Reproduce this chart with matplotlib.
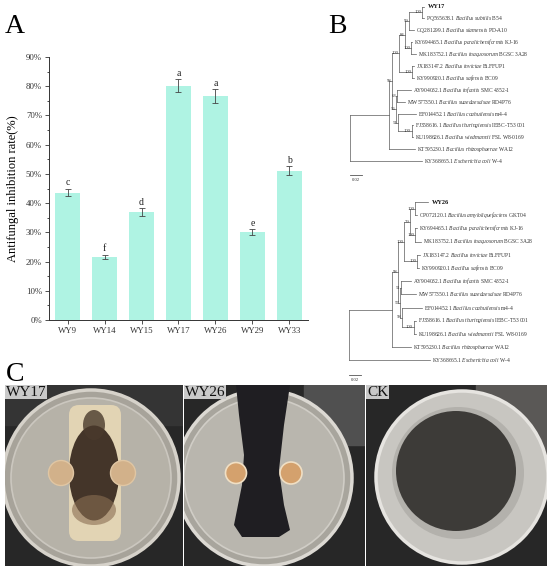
import numpy as np
import matplotlib
matplotlib.use('Agg')
import matplotlib.pyplot as plt
from matplotlib.patches import Circle, Ellipse, Polygon, FancyBboxPatch, Rectangle

plt.rcParams['font.family'] = 'Liberation Serif'
plt.rcParams['mathtext.fontset'] = 'custom'
plt.rcParams['mathtext.rm'] = 'Liberation Serif'
plt.rcParams['mathtext.it'] = 'Liberation Serif:italic'
plt.rcParams['mathtext.bf'] = 'Liberation Serif:bold'

# ---- panel A data
strains = ['WY9', 'WY14', 'WY15', 'WY17', 'WY26', 'WY29', 'WY33']
rates = [43.6, 21.6, 37.0, 80.2, 76.6, 30.1, 51.1]
errs = [1.3, 0.7, 1.3, 2.2, 2.4, 1.0, 1.6]
letters = ['c', 'f', 'd', 'a', 'a', 'e', 'b']

# ---- panel B data (newick, branch lengths in substitutions/site)
tree1 = ("(((((((WY17:0.003,PQ565638.1:0.003)100:0.022,GQ281299.1:0.008)99:0.0067,"
         "(KY694465.1:0.002,MK183752.1:0.008)100:0.010)84:0.010,"
         "(JX183147.2:0.003,KY990920.1:0.003)100:0.022)100:0.0117,"
         "((AY904032.1:0.023,MW577350.1:0.013)63:0.002,"
         "(EF014452.1:0.030,(FJ358616.1:0.003,KU198626.1:0.003)100:0.023)51:0.003)56:0.0067)98:0.005,"
         "KT595230.1:0.043):0.065,KY368665.1:0.120);")
tree2 = ("((((((WY26:0.022,CP072120.1:0.003)100:0.008,"
         "(KY694465.1:0.003,MK183752.1:0.010)100:0.008)79:0.010,"
         "(JX183147.2:0.005,KY990920.1:0.002)100:0.022)100:0.010,"
         "((AY904032.1:0.017,MW577350.1:0.025)51:0.002,"
         "(EF014452.1:0.033,(FJ358616.1:0.003,KU198626.1:0.003)100:0.020)58:0.003)57:0.003)98:0.010,"
         "KT595230.1:0.032):0.072,KY368665.1:0.135);")

species = {
    'PQ565638.1': ('Bacillus subtilis', 'B54'),
    'CP072120.1': ('Bacillus amyloliquefaciens', 'GKT04'),
    'GQ281299.1': ('Bacillus siamensis', 'PD-A10'),
    'KY694465.1': ('Bacillus paralicheniformis', 'KJ-16'),
    'MK183752.1': ('Bacillus inaquosorum', 'BGSC 3A28'),
    'JX183147.2': ('Bacillus invictae', 'Bi.FFUP1'),
    'KY990920.1': ('Bacillus safensis', 'BC09'),
    'AY904032.1': ('Bacillus infantis', 'SMC 4352-1'),
    'MW577350.1': ('Bacillus suaedaesalsae', 'RD4P76'),
    'EF014452.1': ('Bacillus coahuilensis', 'm4-4'),
    'FJ358616.1': ('Bacillus thuringiensis', 'IEBC-T53 001'),
    'KU198626.1': ('Bacillus wiedmannii', 'FSL W8-0169'),
    'KT595230.1': ('Bacillus rhizosphaerae', 'WA12'),
    'KY368665.1': ('Escherichia coli', 'W-4'),
}


def parse_newick(s):
    pos = 0

    def node():
        nonlocal pos
        kids = []
        if s[pos] == '(':
            pos += 1
            while True:
                kids.append(node())
                if s[pos] == ',':
                    pos += 1
                    continue
                pos += 1
                break
        start = pos
        while s[pos] not in ':,);':
            pos += 1
        name = s[start:pos]
        length = 0.0
        if s[pos] == ':':
            pos += 1
            start = pos
            while s[pos] not in ',);':
                pos += 1
            length = float(s[start:pos])
        return {'name': name, 'len': length, 'kids': kids}

    return node()


def layout(nd, x0, counter):
    nd['x'] = x0 + nd['len']
    if not nd['kids']:
        nd['y'] = counter[0]
        counter[0] += 1
    else:
        for k in nd['kids']:
            layout(k, nd['x'], counter)
        nd['y'] = (nd['kids'][0]['y'] + nd['kids'][-1]['y']) / 2


def draw_tree(ax, nd, px):
    lc = '#5a5a5a'
    if nd['kids']:
        ax.plot([nd['x'], nd['x']], [nd['kids'][0]['y'], nd['kids'][-1]['y']], color=lc, lw=0.5)
        for k in nd['kids']:
            ax.plot([nd['x'], k['x']], [k['y'], k['y']], color=lc, lw=0.5)
            draw_tree(ax, k, px)
        if nd['name']:
            ax.text(nd['x'] - 0.8 * px, nd['y'], nd['name'], ha='right', va='center', fontsize=3.4,
                    color='#333333')
    else:
        name = nd['name']
        if name in species:
            sp, st = species[name]
            lab = name + ' $\\mathit{' + sp.replace(' ', '\\ ') + '}$ ' + st
            ax.text(nd['x'] + 2 * px, nd['y'], lab, ha='left', va='center', fontsize=4, color='#333333')
        else:
            ax.text(nd['x'] + 4 * px, nd['y'], name, ha='left', va='center', fontsize=4.6,
                    fontweight='bold', color='#111111')


W, H = 550, 569
fig = plt.figure(figsize=(5.5, 5.69), dpi=100)
fig.patch.set_facecolor('white')


def rect(l, t, r, b):
    return [l / W, 1 - b / H, (r - l) / W, (b - t) / H]


# ---------------- panel A
ax = fig.add_axes(rect(49, 57, 308, 320))
x = np.arange(len(strains))
ax.bar(x, rates, width=0.68, color='#aff3e3', edgecolor='none', zorder=2)
ax.errorbar(x, rates, yerr=errs, fmt='none', ecolor='#444444', elinewidth=0.6, capsize=2.2,
            capthick=0.6, zorder=3)
for xi, r, e, l in zip(x, rates, errs, letters):
    ax.text(xi, r + e + 0.5, l, ha='center', va='bottom', fontsize=7, color='#222222')
ax.set_xlim(-0.5, len(strains) - 0.5)
ax.set_ylim(0, 90)
ax.set_yticks(np.arange(0, 91, 10))
ax.set_yticks(np.arange(5, 90, 10), minor=True)
ax.set_yticklabels(['%d%%' % v for v in range(0, 91, 10)], fontsize=6.3)
ax.set_xticks(x)
ax.set_xticklabels(strains, fontsize=6.4)
ax.tick_params(direction='out', length=3, width=0.6, pad=2, colors='#333333')
ax.tick_params(which='minor', direction='out', length=1.6, width=0.5)
for s in ['top', 'right']:
    ax.spines[s].set_visible(False)
for s in ['left', 'bottom']:
    ax.spines[s].set_linewidth(0.7)
    ax.spines[s].set_color('#333333')
ax.set_ylabel('Antifungal inhibition rate(%)', fontsize=9, labelpad=5)
fig.text(5 / W, 1 - 33 / H, 'A', fontsize=20)

# ---------------- panel B
px_unit = 0.02 / 12.0
for nwk, (l, t, r, b), root_px, y0, dy, bar_i in [
        (tree1, (340, 0, 550, 185), 350, 6.5, 11.9, 14.2),
        (tree2, (340, 188, 550, 384), 349, 202.0, 13.2, 13.1)]:
    tax = fig.add_axes(rect(l, t, r, b))
    tax.axis('off')
    tr = parse_newick(nwk)
    tr['len'] = 0.0
    layout(tr, 0.0, [0])
    tax.set_xlim((l - root_px) * px_unit, (r - root_px) * px_unit)
    tax.set_ylim((b - y0) / dy, (t - y0) / dy)
    draw_tree(tax, tr, px_unit)
    tax.plot([0, 0.02], [bar_i, bar_i], color='#555555', lw=0.6)
    tax.text(0.01, bar_i + 0.25, '0.02', ha='center', va='top', fontsize=3.4, color='#333333')
fig.text(328 / W, 1 - 33 / H, 'B', fontsize=20)

# ---------------- panel C (photographs drawn as shapes)
fig.text(6 / W, 1 - 381 / H, 'C', fontsize=20)
panels = [(5, 183, 'WY17'), (184, 365, 'WY26'), (366, 547, 'CK')]
for (l, r, name) in panels:
    pax = fig.add_axes(rect(l, 385, r, 566))
    w = r - l
    pax.set_xlim(0, w)
    pax.set_ylim(181, 0)
    pax.axis('off')
    pax.add_patch(Rectangle((0, 0), w, 181, color='#272727'))
    if name == 'WY17':
        pax.add_patch(Rectangle((0, 0), w, 40, color='#343434'))
        pax.add_patch(Circle((86, 93), 88, fc='#a7a39a', ec='#d6d2ca', lw=2.5))
        pax.add_patch(Circle((86, 93), 80, fc='#b6b2a8', ec='#cbc7bf', lw=1.2))
        pax.add_patch(FancyBboxPatch((64, 20), 52, 136, boxstyle='round,pad=0,rounding_size=10',
                                     fc='#e2d4b4', ec='none'))
        pax.add_patch(Ellipse((89, 88), 50, 95, fc='#3b2c21', ec='none', alpha=0.95))
        pax.add_patch(Ellipse((89, 40), 22, 30, fc='#4a3a2c', ec='none', alpha=0.8))
        pax.add_patch(Ellipse((89, 125), 44, 30, fc='#8a6e52', ec='none', alpha=0.6))
        pax.add_patch(Circle((56, 88), 12.5, fc='#d2b18a', ec='#e0c6a3', lw=1))
        pax.add_patch(Circle((118, 88), 12.5, fc='#d2b18a', ec='#e0c6a3', lw=1))
    elif name == 'WY26':
        pax.add_patch(Rectangle((120, 0), w - 120, 60, color='#505050'))
        pax.add_patch(Circle((80, 93), 88, fc='#a8a59d', ec='#dcd9d3', lw=2.5))
        pax.add_patch(Circle((80, 93), 80, fc='#b9b6ae', ec='#d0cdc6', lw=1.2))
        pax.add_patch(Polygon([(52, 0), (106, 0), (100, 40), (95, 85), (100, 120), (106, 145),
                               (95, 152), (58, 152), (50, 140), (58, 100), (60, 70), (55, 30)],
                              closed=True, fc='#1f1e22', ec='none'))
        pax.add_patch(Circle((52, 88), 10.5, fc='#d4a16d', ec='#f0dfc4', lw=1.2))
        pax.add_patch(Circle((107, 88), 11, fc='#d4a16d', ec='#f0dfc4', lw=1.2))
    else:
        pax.add_patch(Rectangle((110, 0), w - 110, 90, color='#5a5856'))
        pax.add_patch(Circle((96, 92), 86, fc='#c8c6c1', ec='#e6e4e0', lw=2.5))
        pax.add_patch(Circle((92, 88), 66, fc='#b3b1ac', ec='none'))
        pax.add_patch(Circle((90, 86), 60, fc='#3d3b38', ec='none'))
    pax.text(1, 0.5, name, ha='left', va='top', fontsize=11, color='#111111',
             bbox=dict(boxstyle='square,pad=0.05', fc='#c9c9c9', ec='none'))

fig.savefig('out.png', dpi=100)
